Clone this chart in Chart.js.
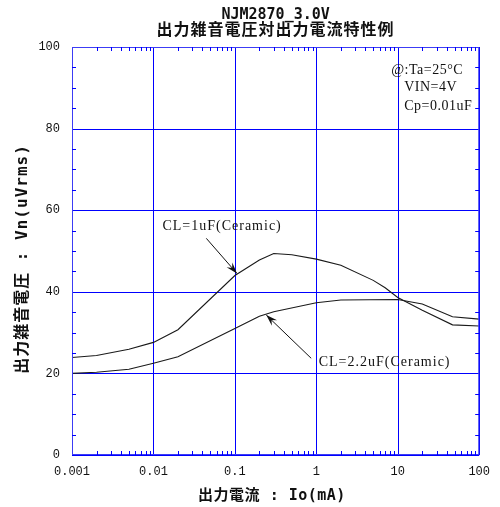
<!DOCTYPE html>
<html>
<head>
<meta charset="utf-8">
<script src="https://cdn.jsdelivr.net/npm/chart.js@4/dist/chart.umd.min.js"></script>
<style>
  html, body { margin: 0; padding: 0; background: #ffffff; }
  canvas { display: block; }
</style>
</head>
<body>
<canvas id="chart" width="500" height="507"></canvas>
<script>
// Output noise voltage Vn (uVrms) versus output current Io (mA)
const io1uF = [0.001, 0.002, 0.005, 0.01, 0.02, 0.1, 0.2, 0.3, 0.5, 1, 2, 5, 7, 10, 20, 47, 100];
const vn1uF = [23.9, 24.4, 25.9, 27.6, 30.7, 44.0, 47.8, 49.4, 49.1, 48.0, 46.5, 42.8, 41.0, 38.6, 35.5, 31.9, 31.6];

const io22uF = [0.001, 0.002, 0.005, 0.01, 0.02, 0.1, 0.2, 0.3, 1, 2, 10, 20, 47, 100];
const vn22uF = [20.0, 20.3, 21.0, 22.5, 24.1, 31.0, 34.0, 35.1, 37.3, 38.0, 38.1, 37.0, 33.9, 33.3];

const seriesLabels = ['CL=1uF(Ceramic)', 'CL=2.2uF(Ceramic)'];

// Axis ranges and tick labels
const xDecades = [0.001, 0.01, 0.1, 1, 10, 100];
const xDecadeLabels = ['0.001', '0.01', '0.1', '1', '10', '100'];
const yMin = 0, yMax = 100, yMajorStep = 20, yMinorStep = 5;

// Text
const titleLine1 = 'NJM2870_3.0V';
const titleLine2 = '出力雑音電圧対出力電流特性例';
const xTitle = '出力電流 : Io(mA)';
const yTitle = '出力雑音電圧 : Vn(uVrms)';
const conditions = ['@:Ta=25°C', 'VIN=4V', 'Cp=0.01uF'];

// Callouts: [label text, label anchor (Io, Vn), arrow tail (Io, Vn), arrow head (Io, Vn)]
const callouts = [
  [seriesLabels[0], [0.0129, 56.0], [0.0446, 53.1], [0.106, 44.5]],
  [seriesLabels[1], [1.07, 22.6], [0.865, 23.7], [0.243, 34.3]]
];

const GRID = '#0000ff';
const FRAME = '#3c3cf5';
const INK = '#111111';

function toPoints(xs, ys) { return xs.map((x, i) => ({ x: x, y: ys[i] })); }

const decorations = {
  id: 'decorations',
  beforeDatasetsDraw(chart) {
    // grid lines at the decades and at every major Vn step
    const ctx = chart.ctx;
    const a = chart.chartArea;
    const xs = chart.scales.x, ys = chart.scales.y;
    ctx.save();
    ctx.strokeStyle = GRID;
    ctx.lineWidth = 1;
    ctx.beginPath();
    xDecades.forEach(v => {
      const px = Math.round(xs.getPixelForValue(v)) + 0.5;
      ctx.moveTo(px, a.top); ctx.lineTo(px, a.bottom);
    });
    for (let v = yMin; v <= yMax; v += yMajorStep) {
      const py = Math.round(ys.getPixelForValue(v)) + 0.5;
      ctx.moveTo(a.left, py); ctx.lineTo(a.right, py);
    }
    ctx.stroke();
    ctx.restore();
  },
  afterDatasetsDraw(chart) {
    const ctx = chart.ctx;
    const a = chart.chartArea;
    const xs = chart.scales.x, ys = chart.scales.y;
    ctx.save();

    // frame around the plot area
    ctx.strokeStyle = FRAME;
    ctx.lineWidth = 1;
    ctx.strokeRect(a.left + 0.5, a.top + 0.5, a.right - a.left - 1, a.bottom - a.top - 1);

    // minor ticks inside the frame
    ctx.strokeStyle = GRID;
    ctx.beginPath();
    const tl = 4;
    for (let d = 0; d < xDecades.length - 1; d++) {
      for (let k = 2; k <= 9; k++) {
        const px = Math.round(xs.getPixelForValue(xDecades[d] * k)) + 0.5;
        ctx.moveTo(px, a.bottom); ctx.lineTo(px, a.bottom - tl);
        ctx.moveTo(px, a.top); ctx.lineTo(px, a.top + tl);
      }
    }
    for (let v = yMin + yMinorStep; v < yMax; v += yMinorStep) {
      if (v % yMajorStep === 0) continue;
      const py = Math.round(ys.getPixelForValue(v)) + 0.5;
      ctx.moveTo(a.left, py); ctx.lineTo(a.left + tl, py);
      ctx.moveTo(a.right, py); ctx.lineTo(a.right - tl, py);
    }
    ctx.stroke();

    // callout labels and arrows
    ctx.fillStyle = INK;
    ctx.strokeStyle = INK;
    ctx.font = '14px "Liberation Serif"';
    ctx.textBaseline = 'middle';
    ctx.textAlign = 'left';
    ctx.letterSpacing = '1px';
    callouts.forEach(c => {
      const [text, lab, tail, head] = c;
      ctx.fillText(text, xs.getPixelForValue(lab[0]), ys.getPixelForValue(lab[1]));
      const x0 = xs.getPixelForValue(tail[0]), y0 = ys.getPixelForValue(tail[1]);
      const x1 = xs.getPixelForValue(head[0]), y1 = ys.getPixelForValue(head[1]);
      ctx.lineWidth = 1;
      ctx.beginPath(); ctx.moveTo(x0, y0); ctx.lineTo(x1, y1); ctx.stroke();
      const ang = Math.atan2(y1 - y0, x1 - x0);
      const L = 12, W = 0.32;
      ctx.beginPath();
      ctx.moveTo(x1, y1);
      ctx.lineTo(x1 - L * Math.cos(ang - W), y1 - L * Math.sin(ang - W));
      ctx.lineTo(x1 - L * 0.6 * Math.cos(ang), y1 - L * 0.6 * Math.sin(ang));
      ctx.lineTo(x1 - L * Math.cos(ang + W), y1 - L * Math.sin(ang + W));
      ctx.closePath();
      ctx.fill();
    });

    // measurement conditions, top right
    ctx.letterSpacing = '0.5px';
    const cx = a.right - 88;
    ctx.fillText(conditions[0], cx, a.top + 23);
    ctx.fillText(conditions[1], cx + 13, a.top + 40.5);
    ctx.fillText(conditions[2], cx + 13, a.top + 59);

    // titles
    const midX = (a.left + a.right) / 2;
    ctx.textAlign = 'center';
    ctx.letterSpacing = '0px';
    ctx.font = 'bold 15px "DejaVu Sans Mono", "Noto Sans CJK JP"';
    ctx.fillText(titleLine1, midX, 15);
    ctx.font = 'bold 16px "Noto Sans CJK JP"';
    ctx.letterSpacing = '1px';
    ctx.fillText(titleLine2, midX, 29);

    ctx.font = 'bold 15px "DejaVu Sans Mono", "Noto Sans CJK JP"';
    ctx.letterSpacing = '0.5px';
    ctx.fillText(xTitle, 272, 496);

    ctx.font = 'bold 16px "DejaVu Sans Mono", "Noto Sans CJK JP"';
    ctx.letterSpacing = '1px';
    ctx.translate(23, 259);
    ctx.rotate(-Math.PI / 2);
    ctx.fillText(yTitle, 0, 0);
    ctx.restore();
  }
};

new Chart(document.getElementById('chart'), {
  type: 'line',
  data: {
    datasets: [
      { label: seriesLabels[0], data: toPoints(io1uF, vn1uF) },
      { label: seriesLabels[1], data: toPoints(io22uF, vn22uF) }
    ].map(d => Object.assign(d, {
      borderColor: '#1a1a1a', borderWidth: 1.1, pointRadius: 0, tension: 0, fill: false
    }))
  },
  options: {
    responsive: false,
    animation: false,
    devicePixelRatio: 1,
    layout: { padding: { left: 0, top: 47, right: 20, bottom: 0 } },
    plugins: { legend: { display: false }, title: { display: false }, tooltip: { enabled: false } },
    scales: {
      x: {
        type: 'logarithmic',
        min: xDecades[0], max: xDecades[xDecades.length - 1],
        afterFit(s) { s.height = 52; },
        afterBuildTicks(s) { s.ticks = xDecades.map(v => ({ value: v })); },
        border: { display: false },
        grid: { display: false, drawTicks: false },
        ticks: {
          autoSkip: false, maxRotation: 0, padding: 10, color: INK,
          font: { family: '"Liberation Mono"', size: 12 },
          callback(v) { const i = xDecades.indexOf(v); return i >= 0 ? xDecadeLabels[i] : ''; }
        }
      },
      y: {
        type: 'linear',
        min: yMin, max: yMax,
        afterFit(s) { s.width = 72; },
        border: { display: false },
        grid: { display: false, drawTicks: false },
        ticks: {
          stepSize: yMajorStep, padding: 12, color: INK,
          font: { family: '"Liberation Mono"', size: 12 }
        }
      }
    }
  },
  plugins: [decorations]
});
</script>
</body>
</html>
